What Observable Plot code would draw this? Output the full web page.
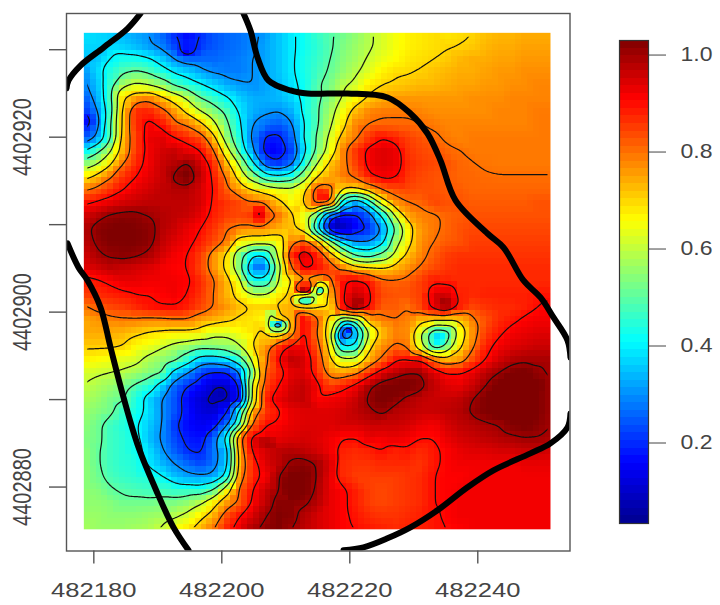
<!DOCTYPE html>
<html>
<head>
<meta charset="utf-8">
<script src="https://cdn.jsdelivr.net/npm/d3@7"></script>
<script src="https://cdn.jsdelivr.net/npm/@observablehq/plot@0.6"></script>
<style>
html,body{margin:0;padding:0;background:#fff}
#wrap{position:relative;width:720px;height:605px;overflow:hidden}
#wrap svg{position:absolute;left:0;top:0}
</style>
</head>
<body>
<div id="wrap"></div>
<script>
// Surface: value x 100, north to south, west to east
const grid = [
[38,37,36,34,32,30,26,20,16,20,24,26,27,29,31,35,39,42,46,49,52,55,59,62,65,67,68,69,68,69,70,72,73,73,74,74,74],
[37,37,37,36,34,31,28,22,18,21,24,26,27,29,32,35,39,42,45,49,53,56,59,62,65,67,68,69,69.6,70.1,71,73,74,74,75,75,75],
[34,35,40,43,43,41,36,30,26,26,26,27,28,30,32,35,39,43,46,50,54,57,61,64,66,68,69,69.9,71,73,74,74,75,75,76,76,76],
[30,37,44,49,51,49,44,39,36,32,29,28,28,30,32,35,39,43,47,51,55,59,63,67,69,69.5,70.5,72,73,74,74,75,76,76,77,77,77],
[28,35,46,58,62,60,56,49,45,41,37,33,31,30,32,34,38,42,49,53,59,62,68,70,71,72,73,73,74,75,75,76,76,77,77,78,78],
[24,33,47,70,76,78,72,66,59,50,46,41,36,33,33,34,37,42,48,54,61,66,71,74,76,76,76,76,76,76,77,77,77,78,78,78,78],
[20,29,45,72,87,88,83,76,68,60,54,48,39,33,31,30,33,42,49,57,65,73,78,79,79,79,78,77,77,77,77,77,78,78,78,79,79],
[16,26,48,72,87,92,89,82,79,72,62,52,41,30,27,25,29,40,49,59,68,78,80,81,81,81,80,79,78,78,78,78,78,78,78,79,79],
[23,31,47,73,85,93,94,90,87,84,73,55,43,28,19,18,26,41,51,62,73,79,86,90,88,85,83,81,79,78,79,79,79,79,79,79,79],
[39,47,58,74,85,92,95,96,93,90,81,64,47,31,17,16,22,38,52,64,78,86,92,94,93,86,84,83,81,80,79,79,79,79,79,79,79],
[54,59,68,80,87,92,96,98,101,95,87,73,59,42,25,21,27,44,60,72,78,85,92,94,93,87,85,84,83,81,80.2,79.4,79,79,79,79,79],
[67,72,79,86,90,93,96,101,104,97,89,79,67,55,44,41,44,55,70,75,79,82,89,92,91,86,84,83,82,81,80.8,80.4,80.2,80.2,80.2,80.2,80.2],
[79,82,86,90,93,95,97,98,98,95,90,82,76,70,66,63,62,68,85,82,70,69,74,80,83,84,83,83,82,82,81,81,81,81,81,81,81],
[89,91,93,95,96,97,97,97,97,95,89,86,84,81,79,72,66,70,84,80,42,31,44,64,76,80,81,84,83,83,82,82,82,82,82,83,83],
[95,98,101,102,102,100,98,97,96,93,88,85,84,86,85,80,72,63,50,25,16,18,25,40,60,74,78,79,81,82,83,83,83,83,83,83,83],
[98,102,103,104,103,102,98,96,93,90,86,81,78,77,77,74,72,68,40,12,8,16,20,30,50,66,76,79,81,83,84,84,84,84,84,84,84],
[97,101,103,103,103,102,97,94,92,88,84,79,66,64,64,66,78,83,74,55,38,30,30,37,56,67,77,80,82,83,85,85,85,85,85,85,85],
[95,99,101,102,101,99,95,92,90,85,77,69,53,41,41,62,87,95,88,74,60,48,45,52,62,72,78,82,85,86,86,86,86,86,86,86,86],
[93,95,97,96,95,94,92,91,90,84,77,68,53,30,29,55,80,92,90,84,79,73,71,70,73,77,81,84,86,87,87,87,87,87,87,87,87],
[88,89,91,93,93,92,92,92,91,87,81,73,63,43,43,60,68,76,72,80,90,92,89,82,81,82,85,89,88,87,87,87,87,87,87,87,87],
[85,87,88,89,90,90,91,92,90,86,80,73,67,60,60,67,72,74,62,74,90,96,91,84,83,83,85,94,95,88,87,88,88,88,88,89,89],
[79,82,84,85,87,89,90,90,88,84,80,76,72,70,70,72,74,72,70,70,89,100,90,82,82,80,84,93,99,88,84,86,87,87,88,90,91],
[74,76,78,79,79,78,78,79,79,75,73,71,69,68,66,68,74,92,82,66,50,55,76,79,80,78,72,70,70,72,79,83,87,89,91,92,92],
[74,74,74,73,71,69,68,67,67,66,62,62,65,68,72,66,76,92,80,64,20,33,61,72,78,77,60,41,44,64,77,85,89,92,93,94,94],
[71,71,71,70,66,64,61,58,56,53,54,55,59,70,76,86,92,92,83,68,40,42,68,77,81,79,63,44,52,68,79,88,92,94,95,96,96],
[67,66,65,63,62,58,55,52,45,36,35,38,46,62,78,90,97,95,86,72,62,62,74,81,89,90,90,79,73,76,84,90,95,98,99,99,99],
[62,61,60,59,57,54,51,37,30,22,19,19,29,52,82,87,93,94,87,77,75,78,86,93,97,100,100,94,90,90,93,97,100,103,104,101,99],
[60,58,56,53,49,45,36,26,20,16,11,11,19,62,84,90,95,97,92,85,88,92,99,103,104,104,102,97,94,93,96,100,104,105,105,104,100],
[58,56,53,51,44,37,30,24,16,11,8,8,17,62,88,93,96,97,91,92,93,96,101,104,102,99,97,96,96,97,100,103,105,105,105,103,100],
[56,54,52,46,43,38,30,24,17,12,11,18,42,75,86,89,93,94,94,94,95,97,99,101,98,97,96,96,97,98,101,103,105,105,105,103,100],
[55,52,47,44,41,36,30,21,16,14,16,27,48,82,90,91,93,94,94,94,95,95,96,96,96,95,93,92,95,97,98,99,100,103,104,102,100],
[54,52,47,45,42,35,29,23,18,17,25,42,78,92,94,93,94,95,94,92,90,90,93,92,93,92,90,90,93,95,96,97,98,99,100,100,99],
[55,51,47,45,42,38,31,25,20,19,27,35,75,91,95,97,98,97,95,92,88,87,88,90,88,89,87,89,91,93,94,94,95,95,96,96,95],
[55,51,47,45,44,39,34,30,26,23,27,36,74,87,94,97,101,102,100,94,87,86,86,87,87,87,86,89,91,92,92,92,92,92,93,93,93],
[55,52,48,46,45,44,41,35,32,31,32,42,77,87,92,100,104,104,100,93,87,85,85,85,85,86,87,90,91,91,92,92,92,92,92,92,92],
[55,54,51,49,48,47,47,46,46,45,50,66,81,90,96,100,105,104,99,93,91,88,85,84,85,86,87,90,91,92,92,92,92,92,92,92,92],
[55,55,54,52,52,52,53,53,55,59,67,76,82,91,97,102,102,101,98,93,91,88,85,84,85,86,87,90,91,92,92,92,92,92,92,92,92],
[56,56,55,55,55,56,57,59,62,68,74,84,90,95,100,103,102,98,95,93,91,89,87,86,86,87,88,89,91,92,92,92,92,92,92,92,92],
[57,56,56,56,57,58,61,65,69,74,80,88,93,99,102,103,100,97,95,93,91,90,89,88,87,88,88,89,90,91,92,92,92,92,92,92,92]
];
// Narrow peaks and pits between the grid nodes
const spotX = [482208.86,482213.08,482215.11,482213.08,482207.61,482205.89,482221.36,482234.95,482219.8,482233.86,482206.83,482218.08,482215.89,482205.73,482207.92,482179.02,482199.8,482194.33];
const spotY = [4402898.71,4402902.71,4402902.25,4402901.34,4402899.62,4402911.28,4402901.11,4402901.11,4402897.91,4402897.11,4402885.22,4402910.25,4402913.11,4402905.34,4402918.48,4402921.91,4402891.05,4402929.68];
const spotV = [.3,1.05,.38,.4,.5,.97,1.01,1.01,.16,.36,1,.06,.94,.27,.15,.16,.07,.15];

// Thick boundary: east and north offsets from (482180, 4402920)
const boundaryA = [[7.3,14.14],[5.27,12.42],[1.52,10.25],[-2.08,8.19],[-3.95,6.48],[-4.27,5.57]];
const boundaryB = [[23.39,14.14],[24.48,12.19],[25.58,9.11],[27.3,6.48],[30.73,5.34],[33.39,4.99],[39.64,4.99],[45.89,4.54],[49.48,2.71],[52.14,.42],[54.17,-2.66],[56.52,-7.23],[61.52,-11.01],[64.02,-12.61],[67.14,-16.38],[69.8,-18.32],[71.83,-20.61],[74.02,-23.23],[74.48,-25.18]];
const boundaryC = [[74.48,-31.58],[74.02,-33.18],[71.36,-35.01],[68.23,-36.15],[62.45,-38.09],[58.39,-40.03],[53.7,-42.66],[49.48,-44.61],[45.89,-45.86],[42.14,-46.89],[39.02,-47.23]];
const boundaryD = [[-4.11,-12.15],[-2.39,-14.89],[-.98,-16.38],[1.05,-19.46],[2.61,-24.03],[4.64,-29.75],[6.98,-35.46],[9.95,-40.72],[12.45,-44.61],[14.8,-47.23]];

const xTicks = [482180,482200,482220,482240];
const yTicks = [4402880,4402890,4402900,4402910,4402920,4402930];
const yLabelled = [4402880,4402900,4402920];
const contourLevels = [.1,.2,.3,.4,.5,.6,.7,.8,.9,1];
const legendTicks = [.2,.4,.6,.8,1];

const colorDomain = [.034,.159,.409,.659,.909,1.03];
const colorRange = ["#00008f","#0000ff","#00ffff","#ffff00","#ff0000","#800000"];
const colorOpt = {type:"linear",domain:colorDomain,range:colorRange,interpolate:"rgb",clamp:true};

const imgX = [482178.44,482251.36];
const imgY = [4402875.17,4402931.93];
const nx = grid[0].length, ny = grid.length;
const samples = [];
grid.forEach((row,j)=>row.forEach((v,i)=>samples.push({
  x: imgX[0]+(imgX[1]-imgX[0])*i/(nx-1),
  y: imgY[1]-(imgY[1]-imgY[0])*j/(ny-1),
  v: v/100
})));
spotV.forEach((v,i)=>samples.push({x:spotX[i],y:spotY[i],v}));

const toPts = a => a.map(([e,n])=>({x:482180+e,y:4402920+n}));
const thick = a => Plot.line(toPts(a),{x:"x",y:"y",stroke:"#000",strokeWidth:6,curve:"catmull-rom",clip:true,strokeLinejoin:"round"});
const FONT = "'Liberation Sans',Arial,sans-serif";
const extent = {x1:imgX[0],x2:imgX[1],y1:imgY[0],y2:imgY[1]};

const chart = Plot.plot({
  width:720,height:605,
  marginLeft:66,marginRight:150.5,marginTop:13,marginBottom:54.5,
  style:{background:"transparent",fontFamily:FONT},
  x:{domain:[482175.73,482254.41]},
  y:{domain:[4402872.69,4402934.14]},
  color:colorOpt,
  marks:[
    Plot.raster(samples,{x:"x",y:"y",fill:"v",interpolate:"barycentric",pixelSize:5.8,imageRendering:"pixelated",...extent}),
    Plot.contour(samples,{x:"x",y:"y",value:"v",thresholds:contourLevels,stroke:"#111",strokeWidth:1.2,fill:"none",interpolate:"barycentric",pixelSize:1,blur:3,...extent}),
    thick(boundaryA),thick(boundaryB),thick(boundaryC),thick(boundaryD),
    Plot.frame({stroke:"#555",strokeWidth:1.4}),
    Plot.axisX({ticks:xTicks,tickFormat:"d",tickSize:13,tickPadding:19,fontSize:20,stroke:"#555",fill:"#444",label:null,strokeWidth:1.4}),
    Plot.axisY({ticks:yTicks,tickFormat:d=>yLabelled.includes(d)?String(d):"",tickSize:17,tickRotate:-90,tickPadding:19,fontSize:20,stroke:"#555",fill:"#444",label:null,strokeWidth:1.4})
  ]
});

const legendLevels = d3.range(64).map(i=>colorDomain[0]+(1.03-colorDomain[0])*i/64);
const legendStep = (1.03-colorDomain[0])/64;
const legend = Plot.plot({
  width:720,height:605,
  marginLeft:619,marginRight:72,marginTop:40,marginBottom:82,
  style:{background:"transparent",fontFamily:FONT},
  x:{domain:[0,1],axis:null},
  y:{domain:[colorDomain[0],1.03]},
  color:colorOpt,
  marks:[
    Plot.rectY(legendLevels,{x1:0,x2:1,y1:d=>d,y2:d=>d+legendStep,fill:d=>d+legendStep/2,shapeRendering:"crispEdges"}),
    Plot.frame({stroke:"#333",strokeWidth:1.2}),
    Plot.axisY({anchor:"right",ticks:legendTicks,tickFormat:".1f",tickSize:17,tickPadding:15,fontSize:20,stroke:"#444",fill:"#444",label:null})
  ]
});

const wrap = document.getElementById("wrap");
wrap.appendChild(chart);
wrap.appendChild(legend);

// Isolines stop half a cell inside the image
const sx = chart.scale("x"), sy = chart.scale("y");
const svg = d3.select(chart);
svg.append("defs").append("clipPath").attr("id","isoclip").append("rect")
  .attr("x",sx.apply(imgX[0])+3.5).attr("y",sy.apply(imgY[1])+4)
  .attr("width",sx.apply(imgX[1])-sx.apply(imgX[0])-6.5)
  .attr("height",sy.apply(imgY[0])-sy.apply(imgY[1])-6);
svg.selectAll('g[aria-label="contour"]').attr("clip-path","url(#isoclip)");

// The reference was stretched sideways when it was saved
svg.selectAll('g[aria-label="x-axis tick label"] text').each(function(){
  const t=this.getAttribute("transform")||""; this.setAttribute("transform",t+" scale(1.28,1)");
});
svg.selectAll('g[aria-label="y-axis tick label"] text').each(function(){
  const t=this.getAttribute("transform")||""; this.setAttribute("transform",t+" scale(1,1.28)");
});
d3.select(legend).selectAll('g[aria-label="y-axis tick label"] text').each(function(){
  const t=this.getAttribute("transform")||""; this.setAttribute("transform",t+" scale(1.15,1)");
});
</script>
</body>
</html>
